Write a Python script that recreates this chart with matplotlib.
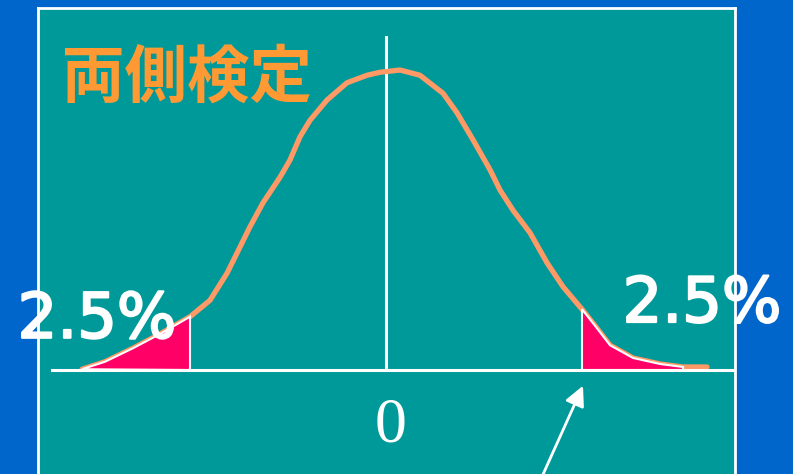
import matplotlib
matplotlib.use("Agg")
import matplotlib.pyplot as plt
import matplotlib.patheffects as pe
import numpy as np

# hand-drawn bell curve (z score, height)
z = np.array([-3.04, -2.81, -2.53, -2.26, -1.96, -1.76, -1.59, -1.46, -1.36, -1.23,
              -1.06, -0.96, -0.86, -0.76, -0.59, -0.39, -0.19, -0.06, 0.14, 0.34,
              0.57, 0.71, 0.87, 1.04, 1.14, 1.27, 1.44, 1.61, 1.77, 1.96,
              2.09, 2.24, 2.47, 2.74, 2.97, 3.21])
dens = np.array([0.001, 0.011, 0.029, 0.048, 0.071, 0.093, 0.129, 0.164, 0.191, 0.223,
                 0.257, 0.280, 0.311, 0.333, 0.360, 0.383, 0.393, 0.397, 0.400, 0.393,
                 0.369, 0.343, 0.307, 0.267, 0.240, 0.213, 0.183, 0.143, 0.111, 0.081,
                 0.059, 0.033, 0.016, 0.008, 0.004, 0.004])
z_crit = 1.96
tail_end = 2.97
title = "両側検定"
tail_label = "2.5%"
center_label = "0"

BLUE = "#0066cc"
TEAL = "#009999"
CURVE = "#ff9966"
TITLE_C = "#ff9933"
PINK = "#ff0066"

fig = plt.figure(figsize=(7.93, 4.74), dpi=100, facecolor=BLUE)
ax = fig.add_axes([38 / 793, 0, 697 / 793, 466 / 474])
ax.set_facecolor(TEAL)
ax.set_xlim(-3.48, 3.49)
ax.set_ylim(-0.1387, 0.4827)
ax.set_xticks([])
ax.set_yticks([])
for side in ["left", "top", "right"]:
    ax.spines[side].set_color("white")
    ax.spines[side].set_linewidth(2)
ax.spines["bottom"].set_visible(False)

# baseline and centre line
ax.plot([-3.34, 3.49], [0, 0], color="white", lw=2.2, zorder=4)
ax.plot([0, 0], [0, 0.444], color="white", lw=2.2, zorder=1)

ax.plot(z, dens, color=CURVE, lw=3.8, solid_capstyle="round",
        solid_joinstyle="round", zorder=2)

# tails
m = z <= -z_crit
ax.fill(np.r_[z[m], -z_crit], np.r_[dens[m], 0], facecolor=PINK,
        edgecolor="white", lw=1.5, zorder=3)
m = (z >= z_crit) & (z <= tail_end)
ax.fill(np.r_[z_crit, z[m], tail_end], np.r_[0, dens[m], 0], facecolor=PINK,
        edgecolor="white", lw=1.5, zorder=3)

ax.annotate("", xy=(z_crit + 0.01, -0.021), xytext=(1.50, -0.16),
            arrowprops=dict(arrowstyle="-|>", color="white", lw=2,
                            mutation_scale=30, shrinkA=0, shrinkB=0),
            annotation_clip=False)

thick = [pe.withStroke(linewidth=1.6, foreground="white")]
ax.text(-3.24, 0.365, title, color=TITLE_C, fontsize=45, fontweight="bold",
        family=["Noto Sans CJK JP", "DejaVu Sans"], ha="left", va="baseline")
ax.text(-2.89, 0.043, tail_label, color="white", fontsize=45,
        ha="center", va="baseline", clip_on=False, path_effects=thick)
ax.text(3.16, 0.064, tail_label, color="white", fontsize=45,
        ha="center", va="baseline", clip_on=False, path_effects=thick)
ax.text(0.05, -0.096, center_label, color="white", fontsize=46,
        family="Liberation Serif", ha="center", va="baseline")

fig.savefig("out.png", dpi=100, facecolor=BLUE)
